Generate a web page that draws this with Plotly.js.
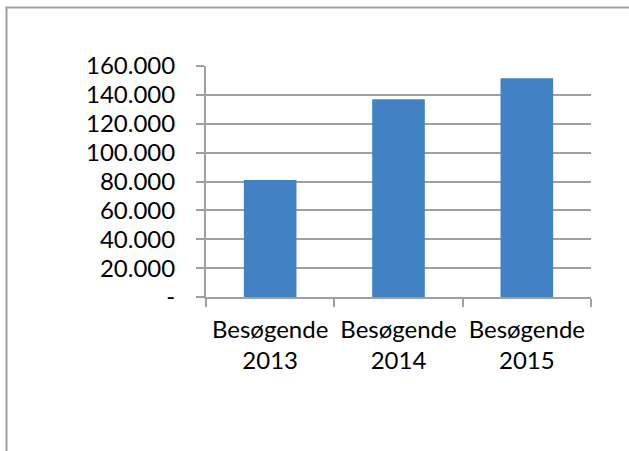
<!DOCTYPE html>
<html><head><meta charset="utf-8">
<script src="https://cdn.plot.ly/plotly-3.0.1.min.js"></script>
<style>html,body{margin:0;padding:0;background:#fff;}#c{width:629px;height:451px;}</style>
</head><body><div id="c"></div>
<script>
const categories = ["Besøgende<br>2013", "Besøgende<br>2014", "Besøgende<br>2015"];
const visitors = [81000, 137000, 151500];
const yTickVals = [0, 20000, 40000, 60000, 80000, 100000, 120000, 140000, 160000];
const yTickText = ["-", "20.000", "40.000", "60.000", "80.000", "100.000", "120.000", "140.000", "160.000"];

const font = {family: "Lato, 'Open Sans', sans-serif", size: 24, color: "#000"};
const trace = {
  type: "bar", x: categories, y: visitors,
  marker: {color: "#4281c3", line: {width: 0}},
  hoverinfo: "none"
};
const layout = {
  width: 629, height: 451,
  margin: {l: 206, r: 38, t: 66, b: 154, pad: 0},
  paper_bgcolor: "#fff", plot_bgcolor: "#fff",
  showlegend: false, bargap: 0.59,
  font: font,
  xaxis: {
    type: "category", range: [-0.5, 2.5], tickson: "boundaries",
    ticks: "outside", ticklen: 8, tickwidth: 2, tickcolor: "#a0a0a0",
    showline: true, linecolor: "#a0a0a0", linewidth: 2,
    showgrid: false, tickfont: font, ticklabelstandoff: 10
  },
  yaxis: {
    range: [0, 160000], tickvals: yTickVals, ticktext: yTickText,
    ticks: "outside", ticklen: 8, tickwidth: 2, tickcolor: "#a0a0a0",
    showline: true, linecolor: "#a0a0a0", linewidth: 2,
    showgrid: true, gridcolor: "#a0a0a0", gridwidth: 2,
    zeroline: false, tickfont: font, ticklabelstandoff: 16
  },
  shapes: [{
    type: "rect", xref: "paper", yref: "paper",
    x0: (6.5 - 206) / 385, x1: 1.2, y0: -0.9, y1: 1 + (66 - 7.5) / 231,
    line: {color: "#a0a0a0", width: 2}, fillcolor: "rgba(0,0,0,0)", layer: "below"
  }]
};
Plotly.newPlot("c", [trace], layout, {staticPlot: true, displayModeBar: false});
</script></body></html>
